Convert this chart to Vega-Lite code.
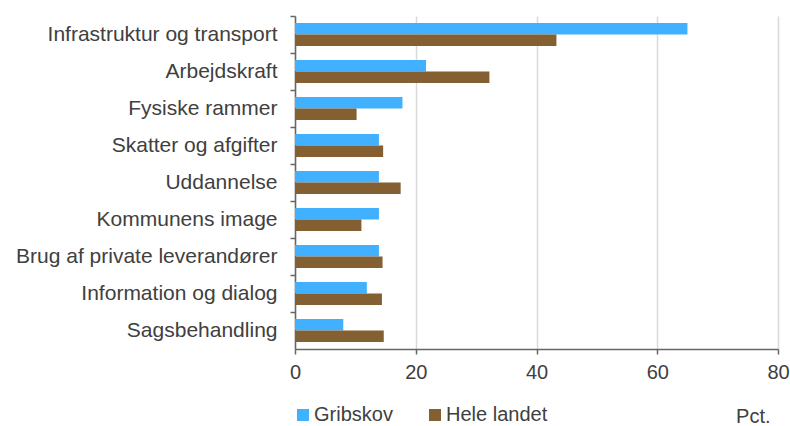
{
  "$schema": "https://vega.github.io/schema/vega-lite/v6.json",
  "width": 483,
  "height": 333,
  "autosize": {"type": "none"},
  "padding": {"left": 295, "top": 16, "right": 12, "bottom": 77},
  "background": "white",
  "config": {
    "view": {"stroke": null},
    "font": "Liberation Sans",
    "axis": {"labelFont": "Liberation Sans", "titleFont": "Liberation Sans"},
    "legend": {"labelFont": "Liberation Sans"}
  },
  "data": {
    "values": [
      {"kategori": "Infrastruktur og transport", "serie": "Gribskov", "pct": 65.0},
      {"kategori": "Infrastruktur og transport", "serie": "Hele landet", "pct": 43.3},
      {"kategori": "Arbejdskraft", "serie": "Gribskov", "pct": 21.7},
      {"kategori": "Arbejdskraft", "serie": "Hele landet", "pct": 32.2},
      {"kategori": "Fysiske rammer", "serie": "Gribskov", "pct": 17.8},
      {"kategori": "Fysiske rammer", "serie": "Hele landet", "pct": 10.2},
      {"kategori": "Skatter og afgifter", "serie": "Gribskov", "pct": 13.9},
      {"kategori": "Skatter og afgifter", "serie": "Hele landet", "pct": 14.6},
      {"kategori": "Uddannelse", "serie": "Gribskov", "pct": 13.9},
      {"kategori": "Uddannelse", "serie": "Hele landet", "pct": 17.5},
      {"kategori": "Kommunens image", "serie": "Gribskov", "pct": 13.9},
      {"kategori": "Kommunens image", "serie": "Hele landet", "pct": 11.0},
      {"kategori": "Brug af private leverandører", "serie": "Gribskov", "pct": 13.9},
      {"kategori": "Brug af private leverandører", "serie": "Hele landet", "pct": 14.5},
      {"kategori": "Information og dialog", "serie": "Gribskov", "pct": 11.9},
      {"kategori": "Information og dialog", "serie": "Hele landet", "pct": 14.4},
      {"kategori": "Sagsbehandling", "serie": "Gribskov", "pct": 8.0},
      {"kategori": "Sagsbehandling", "serie": "Hele landet", "pct": 14.7}
    ]
  },
  "mark": {"type": "bar"},
  "encoding": {
    "y": {
      "field": "kategori",
      "type": "nominal",
      "sort": null,
      "scale": {"paddingInner": 0, "paddingOuter": 0},
      "axis": {
        "title": null,
        "bandPosition": 0,
        "grid": false,
        "domainColor": "#666666",
        "domainWidth": 1.5,
        "tickColor": "#666666",
        "tickWidth": 1.5,
        "tickSize": 5,
        "labelFontSize": 21,
        "labelColor": "#404040",
        "labelPadding": 13,
        "labelLimit": 400
      }
    },
    "yOffset": {
      "field": "serie",
      "type": "nominal",
      "scale": {"paddingInner": 0, "paddingOuter": 0.6}
    },
    "x": {
      "field": "pct",
      "type": "quantitative",
      "scale": {"domain": [0, 80], "nice": false},
      "axis": {
        "values": [0, 20, 40, 60, 80],
        "title": "Pct.",
        "titleFontSize": 20,
        "titleFontWeight": "normal",
        "titleColor": "#404040",
        "titleAlign": "right",
        "titleBaseline": "alphabetic",
        "titleAnchor": null,
        "titleX": 475,
        "titleY": 73,
        "grid": true,
        "gridColor": "#d9d9d9",
        "gridWidth": 1.5,
        "domainColor": "#666666",
        "domainWidth": 1.5,
        "tickColor": "#666666",
        "tickWidth": 1.5,
        "tickSize": 5,
        "labelFontSize": 20,
        "labelColor": "#404040",
        "labelPadding": 8,
        "labelFlush": false
      }
    },
    "color": {
      "field": "serie",
      "type": "nominal",
      "scale": {"domain": ["Gribskov", "Hele landet"], "range": ["#40b0ff", "#835f31"]},
      "legend": {
        "title": null,
        "orient": "none",
        "legendX": -2,
        "legendY": 389,
        "direction": "horizontal",
        "symbolType": "square",
        "symbolSize": 144,
        "symbolStrokeWidth": 0,
        "labelFontSize": 20,
        "labelColor": "#404040",
        "labelOffset": 1,
        "columnPadding": 32
      }
    }
  }
}
